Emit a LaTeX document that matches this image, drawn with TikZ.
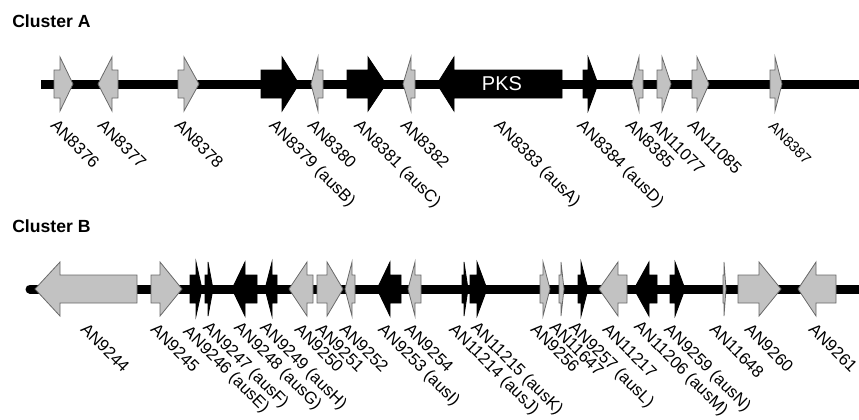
\documentclass[tikz,border=0pt]{standalone}
\usepackage{fontspec}
\setmainfont{Liberation Sans}
\definecolor{genegrey}{RGB}{194,194,194}
\definecolor{geneedge}{RGB}{105,105,105}
\begin{document}
\begin{tikzpicture}[x=0.75pt, y=-0.75pt,
  lbl/.style={rotate=-45, anchor=north west, inner sep=0pt, font=\fontsize{12.5}{14}\selectfont},
  ttl/.style={anchor=west, inner sep=0pt, font=\bfseries\fontsize{13.2}{15}\selectfont},
  track/.style={line width=6.75pt},
  grygene/.style={fill=genegrey, draw=geneedge, line width=0.6pt, line join=miter},
  blkgene/.style={fill=black, draw=black, line width=0.6pt}]

%\draw[help lines] (0,0) grid (859,419);
\useasboundingbox (0,0) rectangle (859,419);

% tail, head base, tip, track, style
\newcommand{\Gene}[5]{
  \draw[#5] (#1, #4-14) -- (#2, #4-14) -- (#2, #4-27) -- (#3, #4) -- (#2, #4+27) -- (#2, #4+14) -- (#1, #4+14) -- cycle;
}

\node (ClA) at (12, 21) [ttl] {Cluster A};
\node (ClB) at (12, 226) [ttl] {Cluster B};

\draw[track] (41, 84) -- (859, 84);
\draw[track, line cap=round] (30, 289) -- (859, 289);

% cluster A
\foreach \t/\b/\p in {54/60/73, 118/112/98, 178/184/199, 323/318/311, 415/411/403,
                      643/639/632, 657/662/671, 692/697/709, 770/775/782}
  \Gene{\t}{\b}{\p}{84}{grygene};
\foreach \t/\b/\p in {261/282/299, 347/368/386, 562/454/437, 583/588/598}
  \Gene{\t}{\b}{\p}{84}{blkgene};
\node (pks) at (502, 84) [text=white, font=\fontsize{15}{18}\selectfont] {PKS};

% cluster B
\foreach \t/\b/\p in {137/60/35, 151/160/182, 313/307/289, 317/327/343, 355/352/345,
                      421/415/408, 540/543/550, 559/561/564, 627/618/599, 723/724/726,
                      738/759/781, 836/816/798}
  \Gene{\t}{\b}{\p}{289}{grygene};
\foreach \t/\b/\p in {190/196/202, 205/208/213, 257/245/232, 277/272/265, 401/390/377,
                      462/464/468, 470/477/487, 578/581/588, 657/649/634, 670/675/685}
  \Gene{\t}{\b}{\p}{289}{blkgene};

\node (n8376) at (58, 118) [lbl] {AN8376};
\node (n8377) at (105, 118) [lbl] {AN8377};
\node (n8378) at (182, 118) [lbl] {AN8378};
\node (n8379) at (277, 118) [lbl] {AN8379 (ausB)};
\node (n8380) at (315, 118) [lbl] {AN8380};
\node (n8381) at (362, 118) [lbl] {AN8381 (ausC)};
\node (n8382) at (408, 118) [lbl] {AN8382};
\node (n8383) at (502, 118) [lbl] {AN8383 (ausA)};
\node (n8384) at (585, 118) [lbl] {AN8384 (ausD)};
\node (n8385) at (633, 118) [lbl] {AN8385};
\node (n11077) at (658, 118) [lbl] {AN11077};
\node (n11085) at (695, 118) [lbl] {AN11085};
\node (n8387) at (775, 120) [lbl, font=\fontsize{11}{12}\selectfont] {AN8387};

\node (n9244) at (88, 322) [lbl] {AN9244};
\node (n9245) at (158, 322) [lbl] {AN9245};
\node (n9246) at (191, 324) [lbl] {AN9246 (ausE)};
\node (n9247) at (211, 320) [lbl] {AN9247 (ausF)};
\node (n9248) at (242, 320) [lbl] {AN9248 (ausG)};
\node (n9249) at (268, 320) [lbl] {AN9249 (ausH)};
\node (n9250) at (302, 322) [lbl] {AN9250};
\node (n9251) at (323, 322) [lbl] {AN9251};
\node (n9252) at (347, 322) [lbl] {AN9252};
\node (n9253) at (386, 322) [lbl] {AN9253 (ausI)};
\node (n9254) at (412, 322) [lbl] {AN9254};
\node (n11214) at (457, 322) [lbl] {AN11214 (ausJ)};
\node (n11215) at (479, 320) [lbl] {AN11215 (ausK)};
\node (n9256) at (538, 322) [lbl] {AN9256};
\node (n11647) at (557, 320) [lbl] {AN11647};
\node (n9257) at (577, 320) [lbl] {AN9257 (ausL)};
\node (n11217) at (610, 322) [lbl] {AN11217};
\node (n11206) at (642, 319) [lbl] {AN11206 (ausM)};
\node (n9259) at (672, 322) [lbl] {AN9259 (ausN)};
\node (n11648) at (717, 322) [lbl] {AN11648};
\node (n9260) at (752, 322) [lbl] {AN9260};
\node (n9261) at (816, 322) [lbl] {AN9261};

\end{tikzpicture}
\end{document}
